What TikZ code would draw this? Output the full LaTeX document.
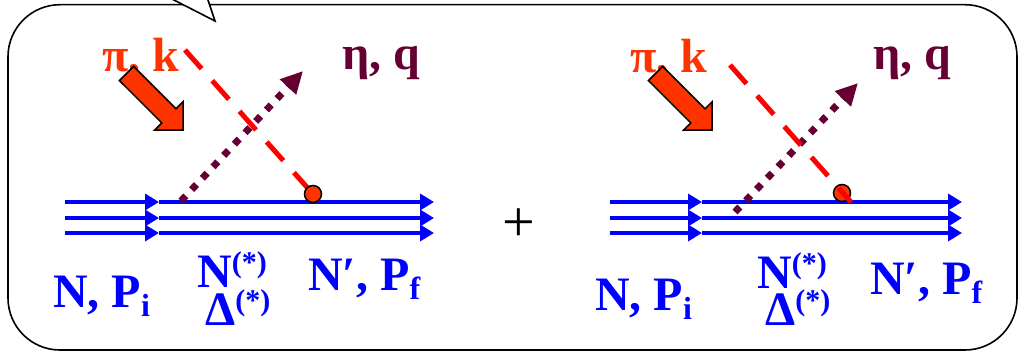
\documentclass[tikz,border=0pt]{standalone}
\usepackage{fontspec}
\setmainfont{Liberation Serif}
\usetikzlibrary{arrows.meta}
\definecolor{pik}{HTML}{FF3300}
\definecolor{etac}{HTML}{660033}
\definecolor{nblue}{HTML}{0000FF}
\definecolor{dred}{HTML}{FF0000}
\newcommand\supx[1]{\raisebox{15pt}{\fontsize{30}{30}\selectfont #1}}
\newcommand\subx[1]{\raisebox{-9pt}{\fontsize{32}{32}\selectfont #1}}
\begin{document}
\begin{tikzpicture}[x=1pt,y=-1pt,
  lbl/.style={anchor=base west, inner sep=0pt, font=\fontsize{48}{50}\selectfont\bfseries},
  nline/.style={nblue, line width=4pt, -{Triangle[length=14pt,width=16pt]}},
  etaline/.style={etac, line width=7pt, dash pattern=on 7pt off 8.6pt, -{Triangle[length=22pt,width=21pt]}},
  piline/.style={dred, line width=5pt, dash pattern=on 25pt off 16pt},
  vert/.style={circle, draw=black, fill=pik, line width=1.5pt, minimum size=17pt, inner sep=0pt},
  fat/.style={draw=black, fill=pik, line width=1.5pt, line join=miter},
  frame/.style={line width=1.6pt}]
\useasboundingbox (0,0) rectangle (1019,353);
% frame with callout pointer
\draw[frame, rounded corners=52pt] (8,4.7) rectangle (1017,350);
\fill[white] (168,-3) -- (215,21) -- (207,-3) -- cycle;
\draw[frame, line join=miter] (168,-3) -- (215,21) -- (207,-3);

% ---------- left diagram ----------
\foreach \r/\n in {202/a,218/b,233/c}{
  \coordinate (Ls\n) at (65,\r);
  \coordinate (Lm\n) at (159,\r);
  \coordinate (Le\n) at (434,\r);
  \draw[nline] (Ls\n) -- (Lm\n);
  \draw[nline] (Lm\n) -- (Le\n);
}
\coordinate (Lea) at (181,201);
\coordinate (Let) at (303,71);
\draw[etaline] (Lea) -- (Let);
\coordinate (Lpa) at (185,50);
\coordinate (Lpe) at (313,194);
\draw[piline] (Lpa) -- (Lpe);
\node[vert] (Lv) at (Lpe) {};
\node[lbl, text=pik] (Lpik) at (102,71) {π, k};
\filldraw[fat] (119.4,80.6) -- (161.8,122.9) -- (154.7,130.0) -- (183,130) -- (183,101.8) -- (176.0,108.8) -- (133.6,66.4) -- cycle;
\node[lbl, text=etac] (Letq) at (342,70) {η, q};
\node[lbl, text=nblue] (LNi) at (53,307) {N, P\subx{i}};
\node[lbl, text=nblue] (LNs) at (197,287) {N\supx{(*)}};
\node[lbl, text=nblue] (LDs) at (205,325) {Δ\supx{(*)}};
\node[lbl, text=nblue] (LNf) at (308,290) {N′, P\subx{f}};

% ---------- plus ----------
\node[inner sep=0pt, font=\fontsize{58}{60}\selectfont] (plus) at (519,225) {+};

% ---------- right diagram ----------
\foreach \r/\n in {202/a,218/b,233/c}{
  \coordinate (Rs\n) at (610,\r);
  \coordinate (Rm\n) at (702,\r);
  \coordinate (Re\n) at (962,\r);
  \draw[nline] (Rs\n) -- (Rm\n);
  \draw[nline] (Rm\n) -- (Re\n);
}
\coordinate (Rea) at (735,212);
\coordinate (Ret) at (858,83);
\draw[etaline] (Rea) -- (Ret);
\node[vert] (Rv) at (842,193) {};
\coordinate (Rpa) at (730,65);
\coordinate (Rpe) at (851,202);
\draw[piline] (Rpa) -- (Rpe);
\node[lbl, text=pik] (Rpik) at (630,72) {π, k};
\filldraw[fat] (648.4,80.6) -- (690.8,122.9) -- (683.7,130.0) -- (712,130) -- (712,101.8) -- (705.0,108.8) -- (662.6,66.4) -- cycle;
\node[lbl, text=etac] (Retq) at (873,70) {η, q};
\node[lbl, text=nblue] (RNi) at (595,310) {N, P\subx{i}};
\node[lbl, text=nblue] (RNs) at (757,288) {N\supx{(*)}};
\node[lbl, text=nblue] (RDs) at (765,325) {Δ\supx{(*)}};
\node[lbl, text=nblue] (RNf) at (870,294) {N′, P\subx{f}};
\end{tikzpicture}
\end{document}
